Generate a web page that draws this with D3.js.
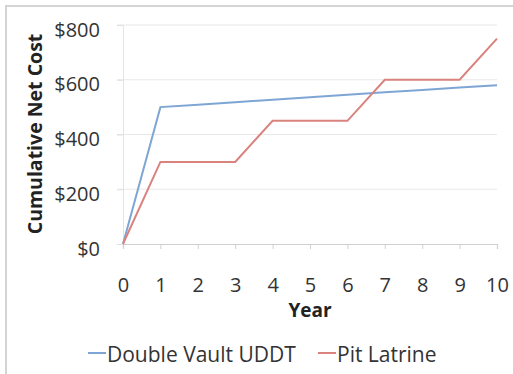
<!DOCTYPE html>
<html><head><meta charset="utf-8">
<script src="https://cdn.jsdelivr.net/npm/d3@7"></script>
<style>body{margin:0;background:#fff;}svg{display:block;}</style>
</head><body>
<script>
const years = [0,1,2,3,4,5,6,7,8,9,10];
const uddt = [0,500,509,518,527,536,545,554,563,572,580];
const pit = [0,300,300,300,450,450,450,600,600,600,750];
const yTicks = [0,200,400,600,800];
const seriesNames = ["Double Vault UDDT","Pit Latrine"];
const colors = ["#7ea6d4","#d9827e"];

const W=513,H=374;
const svg=d3.select("body").append("svg").attr("width",W).attr("height",H);
const font="'Open Sans', sans-serif";
svg.append("rect").attr("x",6).attr("y",6).attr("width",W+10).attr("height",H+10)
  .attr("fill","#fff").attr("stroke","#d4d4d4").attr("stroke-width",2);

const x=d3.scaleLinear().domain([0,10]).range([123,497]);
const y=d3.scaleLinear().domain([0,800]).range([244,25]);

// grid
svg.append("g").selectAll("line").data(yTicks.filter(d=>d>0)).join("line")
  .attr("x1",117).attr("x2",497).attr("y1",d=>y(d)).attr("y2",d=>y(d))
  .attr("stroke","#e8e8e8").attr("stroke-width",1.2);

// y axis
const ya=svg.append("g").attr("transform","translate(123,0)")
  .call(d3.axisLeft(y).tickValues(yTicks).tickSize(6).tickPadding(17).tickFormat(d=>"$"+d));
ya.select(".domain").attr("stroke","#e4e4e4");
ya.selectAll(".tick line").attr("stroke","#e0e0e0");
ya.selectAll("text").attr("font-family",font).attr("font-size",20).attr("fill","#333").attr("dy","0.55em");

// x axis
const xa=svg.append("g").attr("transform","translate(0,244)")
  .call(d3.axisBottom(x).tickValues(years).tickSize(5).tickPadding(29).tickFormat(d3.format("d")));
xa.select(".domain").attr("stroke","#d0d0d0").attr("stroke-width",1.2);
xa.selectAll(".tick line").attr("stroke","#d0d0d0");
xa.selectAll("text").attr("font-family",font).attr("font-size",20).attr("fill","#333").attr("dy","0.72em");

const line=d3.line().x((d,i)=>x(years[i])).y(d=>y(d));
[uddt,pit].forEach((s,i)=>{
  svg.append("path").datum(s).attr("d",line).attr("fill","none")
    .attr("stroke",colors[i]).attr("stroke-width",2);
});

svg.append("text").attr("transform","translate(42,134) rotate(-90)").attr("text-anchor","middle")
  .attr("font-family",font).attr("font-weight","bold").attr("font-size",19.5).attr("fill","#222")
  .text("Cumulative Net Cost");
svg.append("text").attr("x",310).attr("y",317).attr("text-anchor","middle")
  .attr("font-family",font).attr("font-weight","bold").attr("font-size",19).attr("fill","#222")
  .text("Year");

// legend
const lg=[{x:88,name:seriesNames[0],c:colors[0]},{x:318,name:seriesNames[1],c:colors[1]}];
lg.forEach(l=>{
  svg.append("line").attr("x1",l.x).attr("x2",l.x+18).attr("y1",353).attr("y2",353)
    .attr("stroke",l.c).attr("stroke-width",2);
  svg.append("text").attr("x",l.x+19).attr("y",362).attr("font-family",font)
    .attr("font-size",21).attr("fill","#333").text(l.name);
});
</script>
</body></html>
